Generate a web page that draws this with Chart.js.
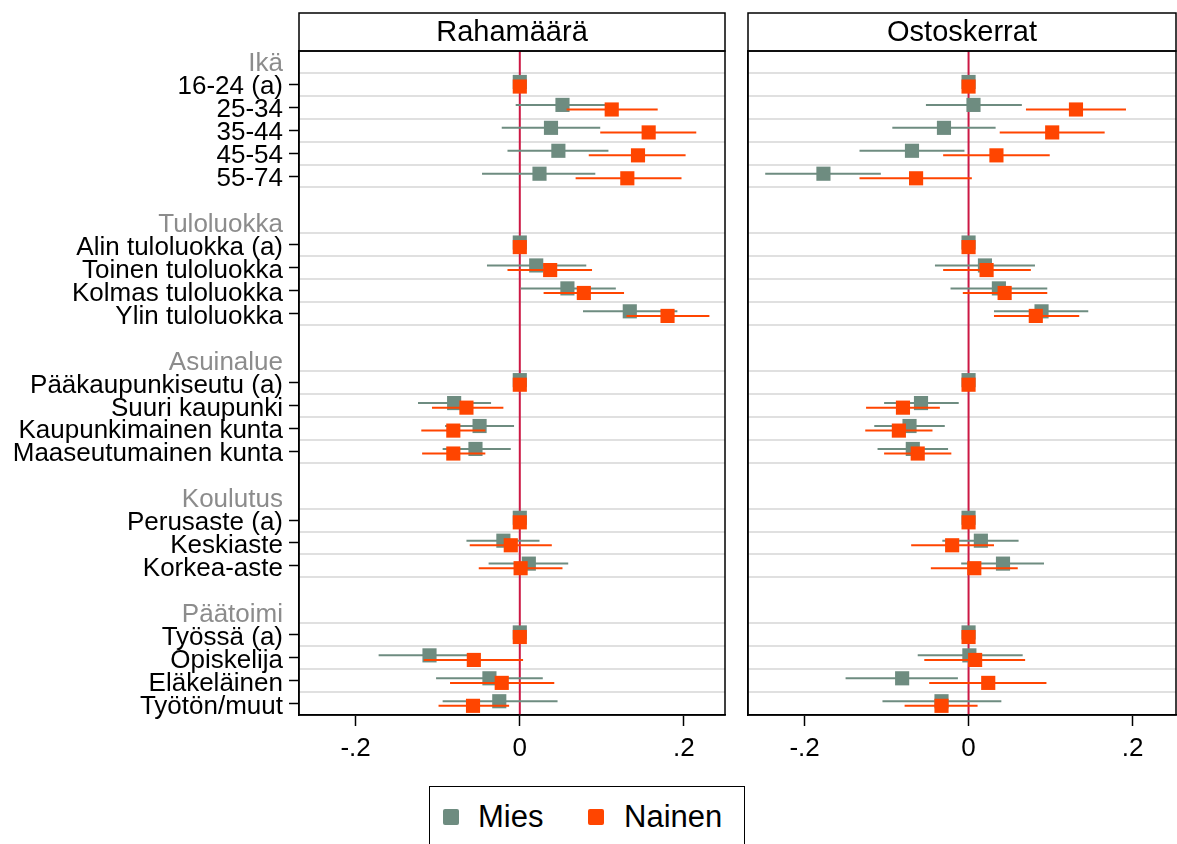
<!DOCTYPE html>
<html>
<head>
<meta charset="utf-8">
<script src="https://cdn.jsdelivr.net/npm/chart.js@4.4.1/dist/chart.umd.min.js"></script>
<style>
  body { margin: 0; background: #fff; width: 1177px; height: 844px; overflow: hidden; position: relative;
         font-family: "Liberation Sans", Arial, sans-serif; }
  #left { position: absolute; left: 0; top: 0; width: 738px; height: 780px; }
  #right { position: absolute; left: 738px; top: 0; width: 439px; height: 780px; }
  #legend { position: absolute; left: 429px; top: 786px; width: 316px; height: 80px;
            border: 1.5px solid #000; box-sizing: border-box; }
  #legend .sw { position: absolute; width: 16px; height: 16px; top: 22px; border-radius: 2px; }
  #legend .tx { position: absolute; top: 12px; font-size: 31px; line-height: 36px; color: #000; }
</style>
</head>
<body>
<div id="left"><canvas id="c1"></canvas></div>
<div id="right"><canvas id="c2"></canvas></div>
<div id="legend">
  <span class="sw" style="left:13px;background:#6e8c80"></span><span class="tx" style="left:48px">Mies</span>
  <span class="sw" style="left:158px;background:#ff4500"></span><span class="tx" style="left:194px">Nainen</span>
</div>
<script>
// ryhmät ja luokat
const groupNames = ['Ikä', 'Tuloluokka', 'Asuinalue', 'Koulutus', 'Päätoimi'];
const groupCats = [
  ['16-24 (a)', '25-34', '35-44', '45-54', '55-74'],
  ['Alin tuloluokka (a)', 'Toinen tuloluokka', 'Kolmas tuloluokka', 'Ylin tuloluokka'],
  ['Pääkaupunkiseutu (a)', 'Suuri kaupunki', 'Kaupunkimainen kunta', 'Maaseutumainen kunta'],
  ['Perusaste (a)', 'Keskiaste', 'Korkea-aste'],
  ['Työssä (a)', 'Opiskelija', 'Eläkeläinen', 'Työtön/muut']
];

// Rahamäärä
const rahaMies     = [0, 0.052, 0.038, 0.047, 0.024,  0, 0.020, 0.058, 0.134,  0, -0.080, -0.049, -0.054,  0, -0.020, 0.011,  0, -0.110, -0.037, -0.025];
const rahaMiesLo   = [0, -0.005, -0.022, -0.015, -0.046,  0, -0.040, 0.001, 0.077,  0, -0.124, -0.091, -0.094,  0, -0.065, -0.038,  0, -0.172, -0.102, -0.094];
const rahaMiesHi   = [0, 0.104, 0.098, 0.108, 0.092,  0, 0.081, 0.117, 0.192,  0, -0.035, -0.007, -0.011,  0, 0.024, 0.059,  0, -0.048, 0.028, 0.046];
const rahaNainen   = [0, 0.112, 0.157, 0.144, 0.131,  0, 0.037, 0.078, 0.180,  0, -0.065, -0.081, -0.081,  0, -0.011, 0.001,  0, -0.056, -0.022, -0.057];
const rahaNainenLo = [0, 0.057, 0.098, 0.084, 0.068,  0, -0.015, 0.029, 0.130,  0, -0.107, -0.120, -0.119,  0, -0.061, -0.050,  0, -0.117, -0.085, -0.099];
const rahaNainenHi = [0, 0.168, 0.215, 0.202, 0.197,  0, 0.088, 0.127, 0.231,  0, -0.020, -0.042, -0.042,  0, 0.039, 0.052,  0, 0.004, 0.042, -0.013];

// Ostoskerrat
const ostoMies     = [0, 0.006, -0.030, -0.069, -0.177,  0, 0.020, 0.037, 0.089,  0, -0.058, -0.072, -0.068,  0, 0.015, 0.042,  0, 0.001, -0.081, -0.033];
const ostoMiesLo   = [0, -0.052, -0.093, -0.133, -0.248,  0, -0.041, -0.022, 0.031,  0, -0.103, -0.115, -0.111,  0, -0.032, -0.009,  0, -0.062, -0.150, -0.105];
const ostoMiesHi   = [0, 0.065, 0.033, -0.005, -0.107,  0, 0.081, 0.096, 0.146,  0, -0.012, -0.029, -0.025,  0, 0.061, 0.092,  0, 0.066, -0.013, 0.040];
const ostoNainen   = [0, 0.131, 0.102, 0.034, -0.064,  0, 0.022, 0.044, 0.082,  0, -0.080, -0.085, -0.062,  0, -0.020, 0.007,  0, 0.008, 0.024, -0.033];
const ostoNainenLo = [0, 0.070, 0.038, -0.031, -0.133,  0, -0.031, -0.007, 0.031,  0, -0.125, -0.126, -0.103,  0, -0.070, -0.046,  0, -0.054, -0.048, -0.078];
const ostoNainenHi = [0, 0.192, 0.166, 0.099, 0.004,  0, 0.076, 0.096, 0.135,  0, -0.035, -0.044, -0.021,  0, 0.031, 0.060,  0, 0.069, 0.095, 0.011];

const xTicks = [-0.2, 0, 0.2];

const GREY = '#6e8c80';
const ORANGE = '#ff4500';
const FONT = '"Liberation Sans", Arial, sans-serif';

// rivit: otsikko, luokat, tyhjä väli
const rowLabels = [];
const rowKind = [];
const catRow = [];
groupNames.forEach((g, gi) => {
  rowLabels.push(g); rowKind.push('head');
  groupCats[gi].forEach(c => { catRow.push(rowLabels.length); rowLabels.push(c); rowKind.push('cat'); });
  if (gi < groupNames.length - 1) { rowLabels.push(''); rowKind.push('blank'); }
});
const boundaries = [];
rowKind.forEach((k, i) => {
  if (k === 'cat') {
    if (rowKind[i - 1] !== 'cat') boundaries.push(i - 0.5);
    boundaries.push(i + 0.5);
  }
});

const errorBars = {
  id: 'errorBars',
  beforeDatasetDraw(chart, args) {
    const ds = chart.data.datasets[args.index];
    const xs = chart.scales.x;
    const ctx = chart.ctx;
    ctx.save();
    ctx.strokeStyle = ds.backgroundColor;
    ctx.lineWidth = 2;
    args.meta.data.forEach((pt, i) => {
      if (ds.lo[i] === ds.hi[i]) return;
      ctx.beginPath();
      ctx.moveTo(xs.getPixelForValue(ds.lo[i]), pt.y);
      ctx.lineTo(xs.getPixelForValue(ds.hi[i]), pt.y);
      ctx.stroke();
    });
    ctx.restore();
  }
};

const zeroLine = {
  id: 'zeroLine',
  beforeDatasetsDraw(chart) {
    const {ctx, chartArea} = chart;
    const x0 = chart.scales.x.getPixelForValue(0);
    ctx.save();
    ctx.strokeStyle = '#cc1844';
    ctx.lineWidth = 2;
    ctx.beginPath();
    ctx.moveTo(x0, chartArea.top);
    ctx.lineTo(x0, chartArea.bottom);
    ctx.stroke();
    ctx.restore();
  }
};

const frame = {
  id: 'frame',
  afterDraw(chart, args, opts) {
    const {ctx, chartArea: a} = chart;
    ctx.save();
    ctx.strokeStyle = '#000';
    ctx.lineWidth = 1.5;
    ctx.strokeRect(a.left, a.top, a.right - a.left, a.bottom - a.top);
    ctx.strokeRect(a.left, 13, a.right - a.left, a.top - 13);
    ctx.fillStyle = '#000';
    ctx.font = '29px ' + FONT;
    ctx.textAlign = 'center';
    ctx.textBaseline = 'middle';
    ctx.fillText(opts.title, (a.left + a.right) / 2, (a.top + 13) / 2 + 1);
    ctx.restore();
  }
};

function makePanel(id, title, mies, miesLo, miesHi, nainen, nainenLo, nainenHi, withLabels, xMax, pad) {
  const yRange = {type: 'linear', reverse: true, min: -0.45, max: 28.5};
  new Chart(document.getElementById(id), {
    type: 'scatter',
    data: {
      datasets: [
        {label: 'Mies', order: 2, data: mies.map((v, i) => ({x: v, y: catRow[i] - 0.1})),
         lo: miesLo, hi: miesHi, backgroundColor: GREY, borderColor: GREY,
         pointStyle: 'rect', pointRadius: 10, pointHoverRadius: 10, borderWidth: 0},
        {label: 'Nainen', order: 1, data: nainen.map((v, i) => ({x: v, y: catRow[i] + 0.1})),
         lo: nainenLo, hi: nainenHi, backgroundColor: ORANGE, borderColor: ORANGE,
         pointStyle: 'rect', pointRadius: 10, pointHoverRadius: 10, borderWidth: 0}
      ]
    },
    options: {
      responsive: true,
      maintainAspectRatio: false,
      animation: false,
      layout: {padding: pad, autoPadding: false},
      plugins: {legend: {display: false}, tooltip: {enabled: false}, frame: {title: title}},
      scales: {
        x: {
          type: 'linear', min: -0.269, max: xMax,
          afterBuildTicks: s => { s.ticks = xTicks.map(v => ({value: v})); },
          afterFit: s => { s.height = 65; s.paddingLeft = 0; s.paddingRight = 0; },
          ticks: {
            color: '#000', padding: 7, font: {family: FONT, size: 26},
            callback: v => v === 0 ? '0' : (v < 0 ? '-' : '') + String(Math.abs(v)).replace(/^0/, '')
          },
          grid: {drawOnChartArea: false, drawTicks: true, tickLength: 11, tickColor: '#000', tickWidth: 1.5},
          border: {color: '#000', width: 1.5}
        },
        y: Object.assign({}, yRange, {
          position: 'left',
          afterBuildTicks: s => { s.ticks = rowLabels.map((l, i) => ({value: i})); },
          afterFit: s => { s.width = withLabels ? 299 : 0; },
          ticks: {
            display: withLabels, autoSkip: false, padding: 6, labelOffset: 3,
            font: {family: FONT, size: 26},
            color: c => rowKind[c.index] === 'head' ? '#8c8c8c' : '#000',
            callback: (v, i) => rowLabels[i]
          },
          grid: {
            drawOnChartArea: false, drawTicks: withLabels, tickLength: 10, tickWidth: 1.5,
            tickColor: c => rowKind[c.index] === 'cat' ? '#000' : 'rgba(0,0,0,0)'
          },
          border: {color: '#000', width: 1.5}
        }),
        yg: Object.assign({}, yRange, {
          position: 'left',
          afterBuildTicks: s => { s.ticks = boundaries.map(v => ({value: v})); },
          afterFit: s => { s.width = 0; },
          ticks: {display: false},
          grid: {color: '#e0e0e0', lineWidth: 2, drawTicks: false},
          border: {display: false}
        })
      }
    },
    plugins: [errorBars, zeroLine, frame]
  });
}

makePanel('c1', 'Rahamäärä', rahaMies, rahaMiesLo, rahaMiesHi, rahaNainen, rahaNainenLo, rahaNainenHi,
  true, 0.25, {left: 0, right: 13, top: 51, bottom: 0});
makePanel('c2', 'Ostoskerrat', ostoMies, ostoMiesLo, ostoMiesHi, ostoNainen, ostoNainenLo, ostoNainenHi,
  false, 0.253, {left: 10, right: 1, top: 51, bottom: 0});
</script>
</body>
</html>
